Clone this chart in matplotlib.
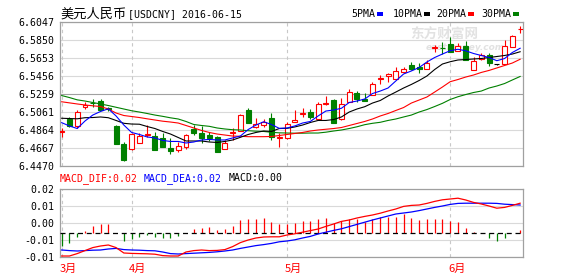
import numpy as np
import matplotlib.pyplot as plt
from matplotlib.patches import Rectangle
import matplotlib.transforms as mtransforms

plt.rcParams['font.family'] = ['DejaVu Sans Mono', 'Noto Sans CJK SC']

# 美元人民币日K 2016-03-21 ~ 2016-06-15
opens = [6.4844, 6.4980, 6.4910, 6.5119, 6.5160, 6.5183, 6.5098, 6.4907, 6.4707, 6.4652,
         6.4724, 6.4803, 6.4797, 6.4781, 6.4667, 6.4650, 6.4674, 6.4871, 6.4833, 6.4808,
         6.4783, 6.4652, 6.4828, 6.4852, 6.5081, 6.4899, 6.4918, 6.4991, 6.4781, 6.4772,
         6.4947, 6.5034, 6.5056, 6.4986, 6.5152, 6.5190, 6.4978, 6.5169, 6.5263, 6.5198,
         6.5250, 6.5420, 6.5449, 6.5416, 6.5493, 6.5572, 6.5554, 6.5525, 6.5760, 6.5761,
         6.5798, 6.5722, 6.5780, 6.5518, 6.5634, 6.5681, 6.5580, 6.5580, 6.5765, 6.5960]
highs = [6.4888, 6.5008, 6.5081, 6.5172, 6.5201, 6.5201, 6.5114, 6.4912, 6.4729, 6.4830,
         6.4825, 6.4912, 6.4844, 6.4827, 6.4776, 6.4732, 6.4814, 6.4918, 6.4907, 6.4844,
         6.4792, 6.4754, 6.4882, 6.5037, 6.5108, 6.4991, 6.4980, 6.5052, 6.4830, 6.4950,
         6.5081, 6.5098, 6.5087, 6.5169, 6.5234, 6.5196, 6.5207, 6.5307, 6.5292, 6.5272,
         6.5390, 6.5463, 6.5488, 6.5547, 6.5547, 6.5605, 6.5597, 6.5627, 6.5790, 6.5823,
         6.5878, 6.5812, 6.5834, 6.5656, 6.5700, 6.5700, 6.5584, 6.5845, 6.5900, 6.5998]
lows = [6.4790, 6.4901, 6.4882, 6.5092, 6.5114, 6.5076, 6.5070, 6.4705, 6.4525, 6.4650,
        6.4724, 6.4787, 6.4645, 6.4677, 6.4601, 6.4623, 6.4656, 6.4808, 6.4721, 6.4743,
        6.4626, 6.4652, 6.4759, 6.4852, 6.4936, 6.4882, 6.4899, 6.4759, 6.4674, 6.4765,
        6.4947, 6.5010, 6.4980, 6.4983, 6.5136, 6.4943, 6.4972, 6.5169, 6.5172, 6.5174,
        6.5250, 6.5365, 6.5387, 6.5416, 6.5488, 6.5518, 6.5482, 6.5525, 6.5714, 6.5692,
        6.5717, 6.5722, 6.5627, 6.5518, 6.5627, 6.5561, 6.5576, 6.5578, 6.5765, 6.5922]
closes = [6.4847, 6.4910, 6.5056, 6.5141, 6.5154, 6.5081, 6.5092, 6.4707, 6.4536, 6.4819,
          6.4797, 6.4819, 6.4645, 6.4681, 6.4631, 6.4688, 6.4808, 6.4833, 6.4779, 6.4772,
          6.4626, 6.4724, 6.4841, 6.5027, 6.4936, 6.4928, 6.4954, 6.4790, 6.4789, 6.4925,
          6.4972, 6.5048, 6.5002, 6.5147, 6.5161, 6.4943, 6.5147, 6.5281, 6.5196, 6.5179,
          6.5365, 6.5427, 6.5474, 6.5510, 6.5525, 6.5525, 6.5525, 6.5591, 6.5765, 6.5754,
          6.5717, 6.5780, 6.5627, 6.5619, 6.5685, 6.5591, 6.5580, 6.5780, 6.5889, 6.5965]

# 均线
ma5 = [6.4943, 6.4907, 6.4879, 6.4961, 6.5026, 6.5065, 6.5094, 6.5016, 6.4917, 6.4836,
       6.4814, 6.4787, 6.4776, 6.4749, 6.4738, 6.4738, 6.4721, 6.4732, 6.4754, 6.4760,
       6.4754, 6.4754, 6.4776, 6.4797, 6.4868, 6.4917, 6.4953, 6.4923, 6.4881, 6.4885,
       6.4907, 6.4939, 6.4956, 6.5016, 6.5070, 6.5081, 6.5100, 6.5163, 6.5179, 6.5201,
       6.5261, 6.5288, 6.5321, 6.5398, 6.5474, 6.5507, 6.5545, 6.5605, 6.5654, 6.5692,
       6.5728, 6.5744, 6.5727, 6.5698, 6.5676, 6.5654, 6.5619, 6.5643, 6.5709, 6.5755]
ma10 = [6.4991, 6.4988, 6.4985, 6.4997, 6.4999, 6.5005, 6.4997, 6.4967, 6.4936, 6.4928,
        6.4926, 6.4901, 6.4879, 6.4847, 6.4819, 6.4781, 6.4743, 6.4743, 6.4743, 6.4732,
        6.4727, 6.4738, 6.4754, 6.4783, 6.4814, 6.4836, 6.4852, 6.4847, 6.4879, 6.4881,
        6.4896, 6.4917, 6.4945, 6.4967, 6.4967, 6.4977, 6.5005, 6.5059, 6.5092, 6.5117,
        6.5157, 6.5185, 6.5234, 6.5277, 6.5321, 6.5360, 6.5403, 6.5452, 6.5523, 6.5583,
        6.5608, 6.5627, 6.5632, 6.5638, 6.5643, 6.5654, 6.5665, 6.5676, 6.5692, 6.5717]
ma20 = [6.5171, 6.5159, 6.5147, 6.5136, 6.5127, 6.5119, 6.5092, 6.5048, 6.5021, 6.5010,
        6.4999, 6.4985, 6.4972, 6.4959, 6.4950, 6.4939, 6.4912, 6.4885, 6.4858, 6.4836,
        6.4819, 6.4808, 6.4797, 6.4794, 6.4790, 6.4790, 6.4790, 6.4792, 6.4803, 6.4814,
        6.4825, 6.4836, 6.4852, 6.4863, 6.4871, 6.4879, 6.4890, 6.4912, 6.4934, 6.4956,
        6.4983, 6.5016, 6.5043, 6.5076, 6.5108, 6.5157, 6.5190, 6.5223, 6.5277, 6.5332,
        6.5390, 6.5414, 6.5441, 6.5463, 6.5491, 6.5513, 6.5540, 6.5567, 6.5594, 6.5635]
ma30 = [6.5239, 6.5217, 6.5192, 6.5179, 6.5163, 6.5147, 6.5130, 6.5111, 6.5092, 6.5073,
        6.5059, 6.5043, 6.5026, 6.5012, 6.4996, 6.4983, 6.4956, 6.4923, 6.4912, 6.4903,
        6.4885, 6.4874, 6.4866, 6.4863, 6.4855, 6.4850, 6.4847, 6.4838, 6.4832, 6.4830,
        6.4828, 6.4828, 6.4830, 6.4830, 6.4839, 6.4852, 6.4863, 6.4879, 6.4898, 6.4921,
        6.4936, 6.4947, 6.4967, 6.4983, 6.5005, 6.5026, 6.5059, 6.5086, 6.5119, 6.5154,
        6.5196, 6.5226, 6.5250, 6.5272, 6.5288, 6.5321, 6.5343, 6.5370, 6.5409, 6.5447]

# MACD
dif = [-0.0115, -0.0115, -0.0103, -0.0088, -0.0073, -0.0065, -0.0060, -0.0073, -0.0100, -0.0102,
       -0.0103, -0.0104, -0.0106, -0.0113, -0.0115, -0.0115, -0.0095, -0.0088, -0.0085, -0.0088,
       -0.0087, -0.0083, -0.0068, -0.0048, -0.0035, -0.0025, -0.0020, -0.0019, -0.0019, -0.0010,
       -0.0004, 0.0004, 0.0012, 0.0020, 0.0033, 0.0045, 0.0058, 0.0065, 0.0075, 0.0083,
       0.0090, 0.0099, 0.0110, 0.0120, 0.0133, 0.0138, 0.0140, 0.0148, 0.0158, 0.0166,
       0.0170, 0.0174, 0.0165, 0.0153, 0.0145, 0.0135, 0.0124, 0.0128, 0.0138, 0.0149]
dea = [-0.0085, -0.0088, -0.0090, -0.0088, -0.0086, -0.0085, -0.0080, -0.0077, -0.0083, -0.0085,
       -0.0086, -0.0088, -0.0089, -0.0095, -0.0103, -0.0105, -0.0103, -0.0101, -0.0099, -0.0097,
       -0.0094, -0.0090, -0.0085, -0.0077, -0.0070, -0.0063, -0.0058, -0.0052, -0.0044, -0.0040,
       -0.0034, -0.0025, -0.0017, -0.0005, 0.0004, 0.0013, 0.0021, 0.0032, 0.0043, 0.0054,
       0.0065, 0.0075, 0.0085, 0.0095, 0.0100, 0.0105, 0.0112, 0.0120, 0.0128, 0.0135,
       0.0143, 0.0148, 0.0149, 0.0149, 0.0149, 0.0149, 0.0148, 0.0144, 0.0142, 0.0140]
macd = [-0.0065, -0.0049, -0.0019, 0.0010, 0.0035, 0.0044, 0.0044, 0.0000, -0.0039, -0.0032,
        -0.0019, -0.0012, -0.0019, -0.0027, -0.0027, -0.0015, 0.0000, 0.0022, 0.0027, 0.0032,
        0.0015, 0.0022, 0.0035, 0.0065, 0.0069, 0.0069, 0.0077, 0.0054, 0.0044, 0.0043,
        0.0052, 0.0060, 0.0060, 0.0070, 0.0077, 0.0052, 0.0062, 0.0069, 0.0069, 0.0057,
        0.0070, 0.0082, 0.0079, 0.0082, 0.0094, 0.0074, 0.0065, 0.0069, 0.0070, 0.0070,
        0.0060, 0.0057, 0.0027, 0.0007, 0.0000, -0.0024, -0.0040, -0.0024, 0.0000, 0.0015]

month_idx = [0, 9, 29, 50]
month_labels = ['3月', '4月', '5月', '6月']
price_ticks = [6.4470, 6.4667, 6.4864, 6.5061, 6.52585, 6.5456, 6.5653, 6.5850, 6.6047]
price_labels = ['6.4470', '6.4667', '6.4864', '6.5061', '6.5259', '6.5456', '6.5653', '6.5850', '6.6047']
macd_range = (-0.01215, 0.02185)
macd_labels = ['-0.01', '-0.01', '0.00', '0.01', '0.02']

RED = '#ff0000'
GREEN = '#008000'
GRID = '#d9d9d9'
BORDER = '#a0a0a0'
FS = 7.1

n = len(closes)
x = np.arange(n)
W, H = 578, 276
fig = plt.figure(figsize=(W / 100, H / 100), dpi=100)

# ---------------- K线主图 ----------------
ax1 = fig.add_axes([59.5 / W, 1 - 166 / H, 463.2 / W, 144.5 / H])
ax1.set_xlim(-0.28, n - 0.67)
ax1.set_ylim(price_ticks[0], price_ticks[-1])
for i, p in enumerate(price_ticks):
    ax1.axhline(p, color=BORDER if i == 4 else GRID, lw=0.8, zorder=0)
for m in month_idx:
    ax1.axvline(m, color='#c8c8c8', lw=0.8, ls=(0, (3, 3)), zorder=0)

# 水印
ax1.text(0.83, 0.915, '东方财富网', transform=ax1.transAxes, family='Noto Sans CJK SC',
         fontsize=9.8, weight='bold', color='#e2e2e2', ha='center', va='center', zorder=0)
ax1.text(0.875, 0.82, 'eastmoney.com', transform=ax1.transAxes, family='DejaVu Sans',
         fontsize=6.5, weight='bold', style='italic', color='#e2e2e2', ha='center', va='center', zorder=0)

for i in range(n):
    o, h, l, c = opens[i], highs[i], lows[i], closes[i]
    if c > o:
        col, fc = RED, 'white'
    elif c < o:
        col, fc = GREEN, GREEN
    else:
        col, fc = 'black', 'black'
    ax1.vlines(i, l, h, color=col, lw=0.8, zorder=2)
    ax1.add_patch(Rectangle((i - 0.32, min(o, c)), 0.64, abs(c - o),
                            fc=fc, ec=col, lw=0.8, zorder=3))

ax1.plot(x, ma30, color=GREEN, lw=0.8, zorder=4)
ax1.plot(x, ma20, color=RED, lw=0.8, zorder=4)
ax1.plot(x, ma10, color='black', lw=0.8, zorder=4)
ax1.plot(x, ma5, color='blue', lw=0.8, zorder=4)

ax1.set_yticks(price_ticks)
ax1.set_yticklabels(price_labels, fontsize=FS)
ax1.set_xticks([])
ax1.tick_params(length=0, pad=4)
for s in ax1.spines.values():
    s.set_color(BORDER)
    s.set_linewidth(0.9)

# 标题和均线图例
fig.text(60 / W, 1 - 14 / H, '美元人民币', family='Noto Sans CJK SC', fontsize=9.5, va='center')
fig.text(128.5 / W, 1 - 14 / H, '[USDCNY] 2016-06-15', fontsize=FS, va='center')
legend_names = ['5PMA', '10PMA', '20PMA', '30PMA']
legend_colors = ['blue', 'black', RED, GREEN]
legend_x = [351.7, 392.7, 436.7, 481.7]
for name, col, lx in zip(legend_names, legend_colors, legend_x):
    fig.text(lx / W, 1 - 14 / H, name, fontsize=FS, va='center')
    rx = lx + len(name) * 5.94 + 1.8
    fig.patches.append(Rectangle((rx / W, 1 - 15.5 / H), 5.5 / W, 3 / H, fc=col, ec='none',
                                 transform=fig.transFigure, figure=fig))

# ---------------- MACD副图 ----------------
ax2 = fig.add_axes([59.5 / W, 1 - 257.3 / H, 463.2 / W, 68 / H])
ax2.set_xlim(-0.28, n - 0.67)
ax2.set_ylim(*macd_range)
macd_ticks = np.linspace(macd_range[0], macd_range[1], 5)
for v in macd_ticks:
    ax2.axhline(v, color=GRID, lw=0.8, zorder=0)
for m in month_idx:
    ax2.axvline(m, color='#c8c8c8', lw=0.8, ls=(0, (3, 3)), zorder=0)

bar_colors = [RED if v > 0 else GREEN for v in macd]
ax2.vlines(x, 0, macd, colors=bar_colors, lw=0.9, zorder=2)
ax2.axhline(0, color='black', lw=0.9, ls=(0, (4, 3)), zorder=3)
ax2.plot(x, dea, color='blue', lw=0.9, zorder=4)
ax2.plot(x, dif, color=RED, lw=0.9, zorder=4)

ax2.set_yticks(macd_ticks)
ax2.set_yticklabels(macd_labels, fontsize=FS)
ax2.set_xticks([])
ax2.tick_params(length=0, pad=4)
for s in ax2.spines.values():
    s.set_color(BORDER)
    s.set_linewidth(0.9)

trans = mtransforms.blended_transform_factory(ax2.transData, ax2.transAxes) + \
    mtransforms.ScaledTranslation(-2.3 / 100, 0, fig.dpi_scale_trans)
for m, lab in zip(month_idx, month_labels):
    ax2.text(m, -0.165, lab, transform=trans, family='Noto Sans CJK SC', fontsize=8,
             color=RED, ha='left', va='center')

fig.text(60 / W, 1 - 178.3 / H, 'MACD_DIF:0.02', fontsize=FS, color=RED, va='center')
fig.text(143.3 / W, 1 - 178.3 / H, 'MACD_DEA:0.02', fontsize=FS, color='blue', va='center')
fig.text(228.3 / W, 1 - 178.3 / H, 'MACD:0.00', fontsize=FS, color='black', va='center')

fig.savefig('out.png', dpi=100)
